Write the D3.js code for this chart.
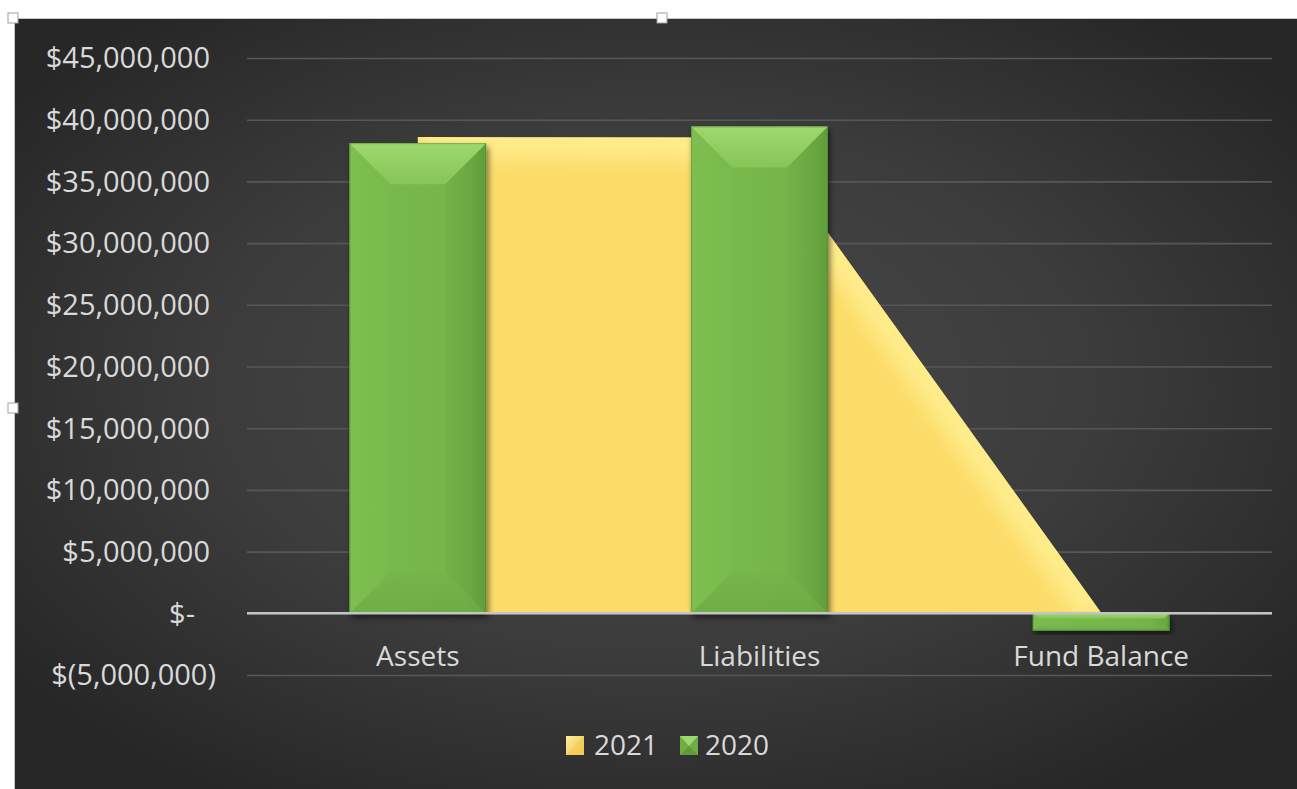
<!DOCTYPE html>
<html>
<head>
<meta charset="utf-8">
<script src="https://cdn.jsdelivr.net/npm/d3@7"></script>
<style>
  html, body { margin: 0; padding: 0; background: #ffffff; overflow: hidden; }
  svg { display: block; }
</style>
</head>
<body>
<svg id="chart" width="1297" height="789"></svg>
<script>
// ---- data ----
const categories = ["Assets", "Liabilities", "Fund Balance"];
const seriesNames = ["2021", "2020"];
const values2021 = [38600000, 38550000, 50000];      // drawn as an area
const values2020 = [38100000, 39450000, -1400000];   // drawn as bevelled columns
const tickValues = [-5000000, 0, 5000000, 10000000, 15000000, 20000000, 25000000, 30000000, 35000000, 40000000, 45000000];
const tickLabels = ["$(5,000,000)", "$-", "$5,000,000", "$10,000,000", "$15,000,000", "$20,000,000", "$25,000,000", "$30,000,000", "$35,000,000", "$40,000,000", "$45,000,000"];

// ---- layout ----
const W = 1297, H = 789;
const plot = { left: 247, right: 1272, top: 58, bottom: 675 };
const FONT = "'Open Sans', 'Liberation Sans', sans-serif";
const TEXT = "#d9d9d9";

const svg = d3.select("#chart");
const defs = svg.append("defs");

// chart background: soft radial glow, darker towards the edges
const bg = defs.append("radialGradient").attr("id", "bgGrad")
  .attr("cx", "50%").attr("cy", "48%").attr("r", "62%");
bg.append("stop").attr("offset", "0%").attr("stop-color", "#4a4a4a");
bg.append("stop").attr("offset", "55%").attr("stop-color", "#3c3c3c");
bg.append("stop").attr("offset", "100%").attr("stop-color", "#272727");

function linGrad(id, x1, y1, x2, y2, stops) {
  const g = defs.append("linearGradient").attr("id", id)
    .attr("x1", x1).attr("y1", y1).attr("x2", x2).attr("y2", y2);
  stops.forEach(s => g.append("stop").attr("offset", s[0]).attr("stop-color", s[1]));
}
// column face gradients (soft angle bevel)
linGrad("gTop", 0, 0, 0, 1, [["0%", "#9fd86d"], ["100%", "#86c557"]]);
linGrad("gFront", 0, 0, 1, 0, [["0%", "#7bbc4e"], ["85%", "#74b449"], ["100%", "#66a33e"]]);
linGrad("gLeft", 0, 0, 1, 0, [["0%", "#80c152"], ["100%", "#7abb4d"]]);
linGrad("gRight", 0, 0, 1, 0, [["0%", "#71b047"], ["100%", "#5c9937"]]);
linGrad("gBottom", 0, 0, 0, 1, [["0%", "#74b449"], ["100%", "#6aa942"]]);
linGrad("gLegY", 0, 0, 1, 1, [["0%", "#fff09a"], ["100%", "#e9c24a"]]);

const shadow = defs.append("filter").attr("id", "colShadow")
  .attr("x", "-20%").attr("y", "-10%").attr("width", "140%").attr("height", "130%");
shadow.append("feDropShadow").attr("dx", 2).attr("dy", 4).attr("stdDeviation", 3)
  .attr("flood-color", "#000").attr("flood-opacity", 0.55);

const glow = defs.append("filter").attr("id", "edgeGlow")
  .attr("x", "-20%").attr("y", "-20%").attr("width", "140%").attr("height", "140%");
glow.append("feGaussianBlur").attr("stdDeviation", 10);

// ---- chart frame ----
svg.append("rect").attr("x", 14).attr("y", 18).attr("width", W - 14).attr("height", H - 18)
  .attr("fill", "url(#bgGrad)");
svg.append("path").attr("d", `M14.5,${H} V18.5 H${W}`)
  .attr("fill", "none").attr("stroke", "#c8c8c8").attr("stroke-width", 1);

// ---- scales ----
const x = d3.scaleBand().domain(categories).range([plot.left, plot.right]).padding(0);
const y = d3.scaleLinear().domain([-5000000, 45000000]).range([plot.bottom, plot.top]);
const cx = c => x(c) + x.bandwidth() / 2;
const barW = x.bandwidth() * 0.4;

// ---- gridlines + value labels ----
const yAxis = d3.axisLeft(y).tickValues(tickValues).tickSize(-(plot.right - plot.left))
  .tickFormat(d => tickLabels[tickValues.indexOf(d)]);
const gy = svg.append("g").attr("transform", `translate(${plot.left},0)`).call(yAxis);
gy.select(".domain").remove();
gy.selectAll(".tick line").attr("stroke", "#575757").attr("stroke-width", 1.6);
gy.selectAll(".tick text")
  .attr("fill", TEXT).attr("font-family", FONT).attr("font-size", 29)
  .attr("x", d => d < 0 ? -31 : d === 0 ? -52 : -37)
  .attr("dy", "0.34em");

// ---- 2021 area ----
const areaGen = d3.area()
  .x((d, i) => cx(categories[i]))
  .y0(y(0)).y1(d => y(d));
const lineGen = d3.line()
  .x((d, i) => cx(categories[i]))
  .y(d => y(d));

defs.append("clipPath").attr("id", "areaClip")
  .append("path").attr("d", areaGen(values2021));

const areaG = svg.append("g");
areaG.append("path").attr("d", areaGen(values2021)).attr("fill", "#fcdc69");
areaG.append("g").attr("clip-path", "url(#areaClip)")
  .append("path").attr("d", lineGen(values2021))
  .attr("fill", "none").attr("stroke", "#fff39a").attr("stroke-width", 44)
  .attr("stroke-linejoin", "round").attr("opacity", 0.7).attr("filter", "url(#edgeGlow)");

// ---- 2020 bevelled columns ----
function bevelColumn(g, x0, x1, yTop, yBot) {
  const w = x1 - x0, h = yBot - yTop;
  const d = Math.min(42, w * 0.3, h * 0.3);
  const col = g.append("g").attr("filter", "url(#colShadow)");
  const pts = a => a.map(p => p.join(",")).join(" ");
  col.append("rect").attr("x", x0).attr("y", yTop).attr("width", w).attr("height", h)
    .attr("fill", "url(#gFront)");
  col.append("polygon").attr("fill", "url(#gLeft)").attr("opacity", 0.5)
    .attr("points", pts([[x0, yTop], [x0 + d, yTop + d], [x0 + d, yBot - d], [x0, yBot]]));
  col.append("polygon").attr("fill", "url(#gRight)").attr("opacity", 0.6)
    .attr("points", pts([[x1, yTop], [x1 - d, yTop + d], [x1 - d, yBot - d], [x1, yBot]]));
  col.append("polygon").attr("fill", "url(#gBottom)").attr("opacity", 0.7)
    .attr("points", pts([[x0, yBot], [x0 + d, yBot - d], [x1 - d, yBot - d], [x1, yBot]]));
  col.append("polygon").attr("fill", "url(#gTop)")
    .attr("points", pts([[x0, yTop], [x1, yTop], [x1 - d, yTop + d], [x0 + d, yTop + d]]));
  col.append("rect").attr("x", x0 + 0.5).attr("y", yTop + 0.5).attr("width", w - 1).attr("height", h - 1)
    .attr("fill", "none").attr("stroke", "#4c7d2c").attr("stroke-opacity", 0.4);
}

const barsG = svg.append("g");
values2020.forEach((v, i) => {
  const c = cx(categories[i]);
  const yTop = Math.min(y(v), y(0)), yBot = Math.max(y(v), y(0));
  bevelColumn(barsG, c - barW / 2, c + barW / 2, yTop, yBot);
});

// zero line
svg.append("line").attr("x1", plot.left).attr("x2", plot.right)
  .attr("y1", y(0)).attr("y2", y(0))
  .attr("stroke", "#c4c4c4").attr("stroke-width", 2.4);

// ---- category labels ----
svg.append("g").selectAll("text").data(categories).join("text")
  .attr("x", d => cx(d)).attr("y", 666)
  .attr("text-anchor", "middle")
  .attr("fill", TEXT).attr("font-family", FONT).attr("font-size", 28)
  .text(d => d);

// ---- legend ----
const legend = svg.append("g").attr("font-family", FONT).attr("font-size", 28).attr("fill", TEXT);
const legItems = [
  { name: seriesNames[0], mx: 566, tx: 594 },
  { name: seriesNames[1], mx: 680, tx: 705 }
];
// 2021 swatch
legend.append("rect").attr("x", legItems[0].mx).attr("y", 736).attr("width", 18).attr("height", 19)
  .attr("fill", "url(#gLegY)");
legend.append("polygon")
  .attr("points", `${legItems[0].mx},755 ${legItems[0].mx + 18},736 ${legItems[0].mx + 18},755`)
  .attr("fill", "#f2cd58").attr("opacity", 0.8);
// 2020 swatch
legend.append("rect").attr("x", legItems[1].mx).attr("y", 736).attr("width", 18).attr("height", 19)
  .attr("fill", "#6fae45");
legend.append("polygon")
  .attr("points", `${legItems[1].mx},736 ${legItems[1].mx + 18},736 ${legItems[1].mx + 9},746`)
  .attr("fill", "#9fd86e");
legend.append("polygon")
  .attr("points", `${legItems[1].mx},755 ${legItems[1].mx + 18},755 ${legItems[1].mx + 9},746`)
  .attr("fill", "#5e9c39");
legend.selectAll("text.lt").data(legItems).join("text").attr("class", "lt")
  .attr("x", d => d.tx).attr("y", 755).text(d => d.name);

// ---- selection handles on the chart frame ----
[[13, 18], [662, 18], [13, 408]].forEach(([hx, hy]) => {
  svg.append("rect").attr("x", hx - 5).attr("y", hy - 5).attr("width", 10).attr("height", 10)
    .attr("fill", "#ffffff").attr("stroke", "#a0a0a0").attr("stroke-width", 1);
});
</script>
</body>
</html>
